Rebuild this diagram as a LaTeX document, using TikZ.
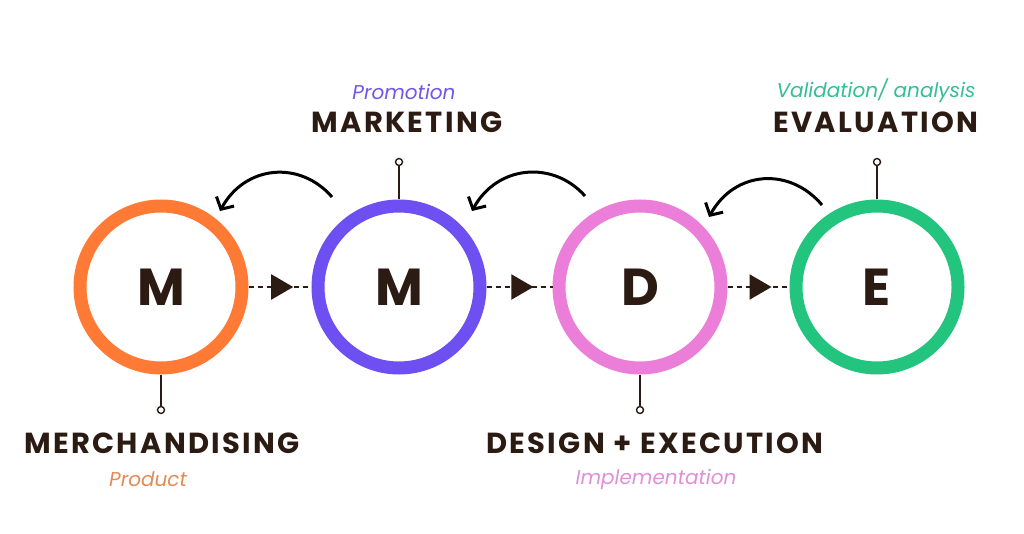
\documentclass[tikz,border=0pt]{standalone}
\usepackage{fontspec}
\setmainfont{Poppins}
\newfontfamily\ttl[LetterSpace=8]{Poppins}
\usetikzlibrary{arrows.meta,decorations.markings}
\definecolor{cOr}{HTML}{FF7A35}
\definecolor{cPu}{HTML}{6E50F2}
\definecolor{cPi}{HTML}{EA7ED8}
\definecolor{cGr}{HTML}{22C47E}
\definecolor{cDk}{HTML}{2B1B12}
\definecolor{tOr}{HTML}{E58A55}
\definecolor{tPu}{HTML}{7257E8}
\definecolor{tPi}{HTML}{E190D8}
\definecolor{tGr}{HTML}{35BF95}
\tikzset{
  ring/.style={circle, draw=#1, line width=13pt, minimum size=162pt, inner sep=0pt, outer sep=6.5pt,
    font=\fontsize{52}{52}\selectfont\bfseries, text=cDk},
  pin/.style={circle, draw=cDk, fill=white, line width=1.4pt, minimum size=7pt, inner sep=0pt},
  stem/.style={draw=cDk, line width=1.6pt},
  flow/.style={draw=cDk, line width=2pt, dash pattern=on 5pt off 4pt,
    postaction={decorate}, decoration={markings, mark=at position 0.71 with {\arrow{Triangle[length=22pt,width=25pt]}}}},
  back/.style={draw=black, line width=3pt, -{Straight Barb[length=9pt,width=20pt,line width=3pt]}},
  title/.style={text=cDk, font=\ttl\fontsize{29}{29}\selectfont\bfseries},
  sub/.style={font=\fontsize{20}{20}\selectfont\itshape},
}
\begin{document}
\begin{tikzpicture}[x=1pt,y=-1pt]
\useasboundingbox[fill=white] (0,0) rectangle (1024,534);
\node[ring=cOr] (c1) at (161,287) {M};
\node[ring=cPu] (c2) at (399,287) {M};
\node[ring=cPi] (c3) at (640,287) {D};
\node[ring=cGr] (c4) at (877,287) {E};
\path[flow] (c1.east) -- (c2.west);
\path[flow] (c2.east) -- (c3.west);
\path[flow] (c3.east) -- (c4.west);
\node[pin] (p1) at (161,410) {};
\node[pin] (p2) at (399,162) {};
\node[pin] (p3) at (640,410) {};
\node[pin] (p4) at (877,162) {};
\draw[stem] (c1.south) -- (p1.north);
\draw[stem] (c2.north) -- (p2.south);
\draw[stem] (c3.south) -- (p3.north);
\draw[stem] (c4.north) -- (p4.south);
\coordinate (a1s) at (332,197); \coordinate (a1e) at (220,211);
\coordinate (a2s) at (585,196); \coordinate (a2e) at (472,211);
\coordinate (a3s) at (822,205); \coordinate (a3e) at (709,217);
\draw[back] (a1s) .. controls (300,160) and (245,165) .. (a1e);
\draw[back] (a2s) .. controls (553,160) and (497,165) .. (a2e);
\draw[back] (a3s) .. controls (790,167) and (735,170) .. (a3e);
\node[sub, text=tPu] (s2) at (404,92) {Promotion};
\node[title] (t2) at (407,122) {MARKETING};
\node[sub, text=tGr] (s4) at (876,91) {Validation/ analysis};
\node[title] (t4) at (876,122) {EVALUATION};
\node[title] (t1) at (162,443) {MERCHANDISING};
\node[sub, text=tOr] (s1) at (148,479) {Product};
\node[title] (t3) at (655,443) {DESIGN + EXECUTION};
\node[sub, text=tPi] (s3) at (656,479) {Implementation};
\end{tikzpicture}
\end{document}
